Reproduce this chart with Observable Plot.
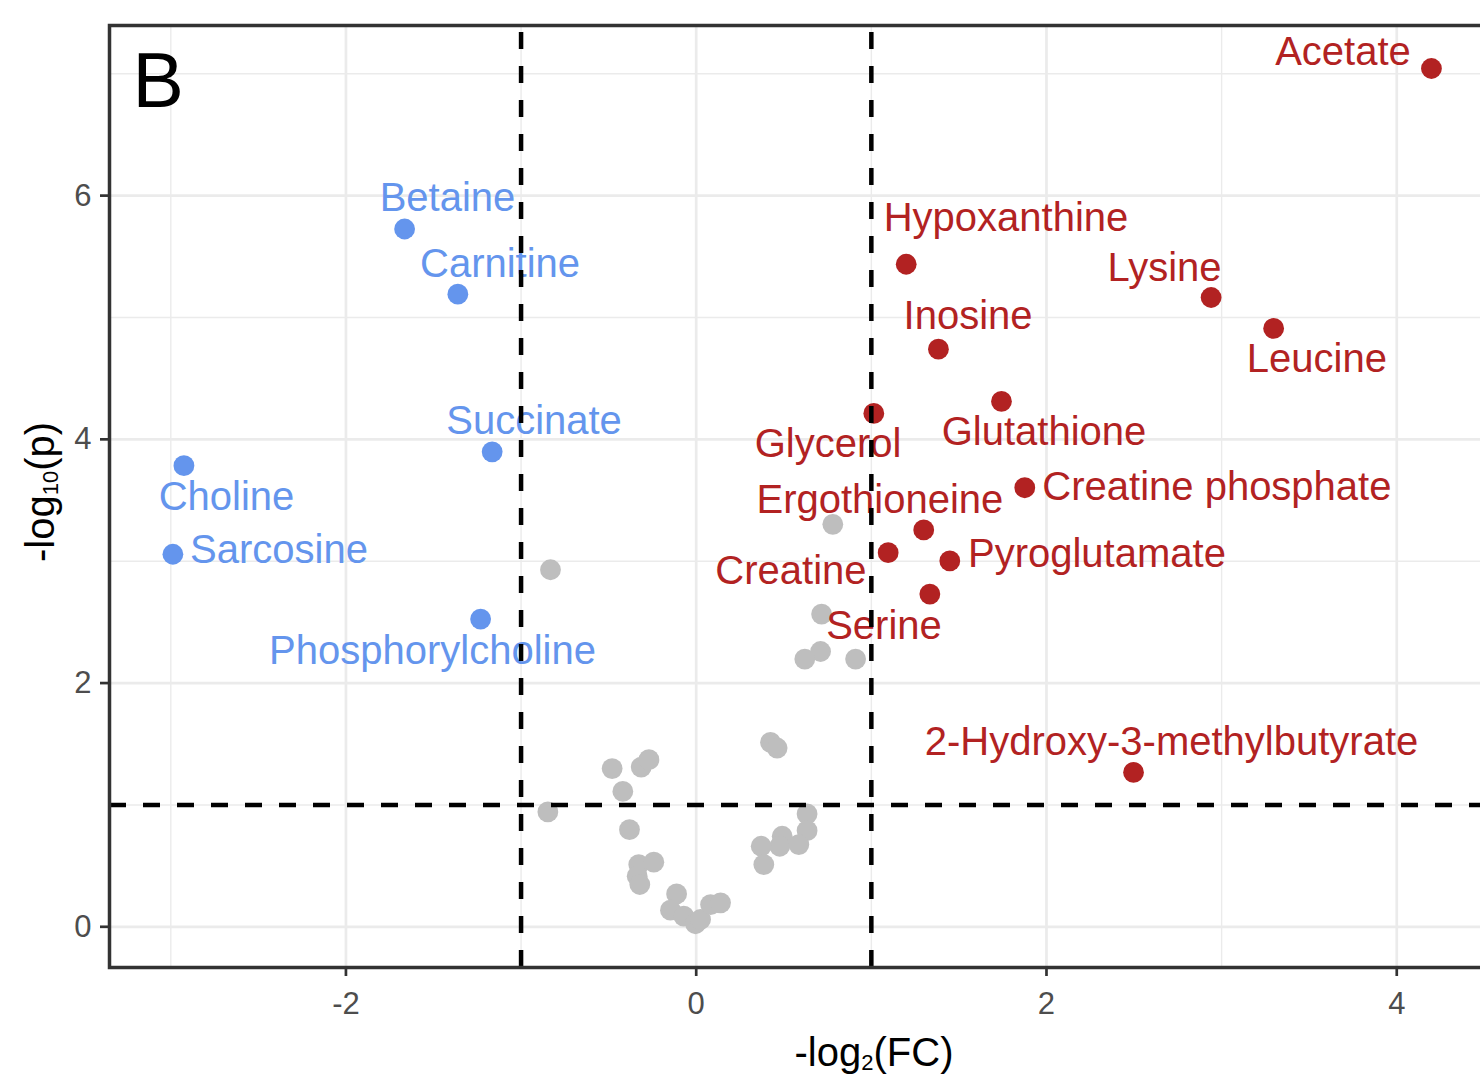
<!DOCTYPE html>
<html>
<head>
<meta charset="utf-8">
<script src="https://cdn.jsdelivr.net/npm/d3@7"></script>
<script src="https://cdn.jsdelivr.net/npm/@observablehq/plot@0.6"></script>
<style>
  html, body { margin: 0; padding: 0; overflow: hidden; background: #fff; }
  #chart { width: 1480px; height: 1079px; overflow: hidden; }
</style>
</head>
<body>
<div id="chart"></div>
<script>
// Volcano plot: -log2(FC) against -log10(p)

// Metabolites lower in the comparison group (blue)
const downNames = ["Betaine", "Carnitine", "Succinate", "Choline", "Sarcosine", "Phosphorylcholine"];
const downFC    = [-1.665, -1.361, -1.165, -2.925, -2.988, -1.231];
const downP     = [5.726, 5.191, 3.898, 3.784, 3.057, 2.525];
// repelled label anchors (data units)
const downLabelX = [-1.420, -1.120, -0.926, -2.682, -2.382, -1.506];
const downLabelY = [5.978, 5.437, 4.150, 3.527, 3.093, 2.265];

// Metabolites higher in the comparison group (red)
const upNames = ["Acetate", "Hypoxanthine", "Lysine", "Leucine", "Inosine", "Glutathione", "Glycerol",
                 "Creatine phosphate", "Ergothioneine", "Creatine", "Pyroglutamate", "Serine",
                 "2-Hydroxy-3-methylbutyrate"];
const upFC = [4.198, 1.199, 2.940, 3.297, 1.383, 1.743, 1.014, 1.876, 1.299, 1.096, 1.448, 1.334, 2.497];
const upP  = [7.043, 5.437, 5.164, 4.910, 4.740, 4.311, 4.213, 3.603, 3.257, 3.070, 3.002, 2.730, 1.267];
const upLabelX = [3.693, 1.769, 2.674, 3.544, 1.552, 1.986, 0.753, 2.973, 1.049, 0.541, 2.288, 1.072, 2.714];
const upLabelY = [7.175, 5.814, 5.404, 4.658, 5.011, 4.060, 3.961, 3.609, 3.502, 2.920, 3.060, 2.470, 1.519];

// Metabolites that miss either cut-off (grey)
const nsFC = [-0.832, 0.780, 0.716, 0.710, 0.620, 0.910, 0.424, 0.462, -0.480, -0.314, -0.270, -0.419,
              -0.847, -0.381, -0.328, -0.242, -0.337, -0.322, -0.112, -0.147, -0.071, -0.004, 0.025,
              0.082, 0.139, 0.633, 0.633, 0.491, 0.477, 0.586, 0.371, 0.386];
const nsP  = [2.930, 3.303, 2.566, 2.259, 2.197, 2.197, 1.513, 1.467, 1.298, 1.311, 1.371, 1.111,
              0.943, 0.797, 0.511, 0.530, 0.415, 0.347, 0.270, 0.136, 0.087, 0.025, 0.060,
              0.182, 0.197, 0.926, 0.789, 0.743, 0.661, 0.675, 0.661, 0.511];

// Thresholds, ticks and panel extent
const fcCut = [-1, 1];
const pCut = [1];
const xTicks = [-2, 0, 2, 4];
const xMinor = [-3, -1, 1, 3, 5];
const yTicks = [0, 2, 4, 6];
const yMinor = [1, 3, 5, 7];
const xDomain = [-3.35, 5.386];
const yDomain = [-0.334, 7.396];
const panelTag = "B";

const FONT = "'Liberation Sans', Arial, Helvetica, sans-serif";
const BLUE = "#6495ED", RED = "#B22222", GREY = "#BEBEBE";

const down = downNames.map((name, i) => ({name, fc: downFC[i], p: downP[i], lx: downLabelX[i], ly: downLabelY[i]}));
const up = upNames.map((name, i) => ({name, fc: upFC[i], p: upP[i], lx: upLabelX[i], ly: upLabelY[i]}));
const ns = nsFC.map((fc, i) => ({fc, p: nsP[i]}));

const dash = {stroke: "#000", strokeWidth: 4.5, strokeDasharray: "17,17"};
const gridMinor = {stroke: "#ebebeb", strokeOpacity: 1, strokeWidth: 1.4};
const gridMajor = {stroke: "#ebebeb", strokeOpacity: 1, strokeWidth: 2.7};
const tickText = d => String(d);

const plot = Plot.plot({
  width: 1660,
  height: 1079,
  marginLeft: 109,
  marginRight: 21,
  marginTop: 25,
  marginBottom: 112,
  style: {fontFamily: FONT, background: "#fff", maxWidth: "none"},
  x: {domain: xDomain, label: null},
  y: {domain: yDomain, label: null},
  marks: [
    Plot.gridX(xMinor, gridMinor),
    Plot.gridY(yMinor, gridMinor),
    Plot.gridX(xTicks, gridMajor),
    Plot.gridY(yTicks, gridMajor),
    Plot.dot(ns, {x: "fc", y: "p", r: 10.4, fill: GREY}),
    Plot.dot(down, {x: "fc", y: "p", r: 10.4, fill: BLUE}),
    Plot.dot(up, {x: "fc", y: "p", r: 10.4, fill: RED}),
    Plot.text(down, {x: "lx", y: "ly", text: "name", fill: BLUE, fontSize: 40, textAnchor: "middle"}),
    Plot.text(up, {x: "lx", y: "ly", text: "name", fill: RED, fontSize: 40, textAnchor: "middle"}),
    Plot.text([panelTag], {frameAnchor: "top-left", textAnchor: "start", lineAnchor: "top",
                           dx: 23, dy: 27, fontSize: 77, fill: "#000"}),
    Plot.ruleX(fcCut, {x: d => d, y1: yDomain[0], y2: yDomain[1], ...dash}),
    Plot.ruleY(pCut, dash),
    Plot.frame({stroke: "#333", strokeWidth: 3.5}),
    Plot.axisX(xTicks, {tickSize: 9, tickPadding: 15, stroke: "#333", strokeWidth: 2.7,
                        fill: "#4d4d4d", fontSize: 31, label: null, tickFormat: tickText}),
    Plot.axisY(yTicks, {tickSize: 9, tickPadding: 9, stroke: "#333", strokeWidth: 2.7,
                        fill: "#4d4d4d", fontSize: 31, label: null, tickFormat: tickText})
  ]
});

// Axis titles with subscripts
const svg = d3.select(plot);
const xr = plot.scale("x").range;
const yr = plot.scale("y").range;
const xMid = (xr[0] + xr[1]) / 2;
const yMid = (yr[0] + yr[1]) / 2;

const xt = svg.append("text")
  .attr("x", xMid).attr("y", 1066)
  .attr("text-anchor", "middle")
  .attr("font-size", 40).attr("fill", "#000");
xt.append("tspan").text("-log");
xt.append("tspan").attr("font-size", 22).attr("dy", 4).text("2");
xt.append("tspan").attr("dy", -4).text("(FC)");

const yt = svg.append("text")
  .attr("transform", `translate(54,${yMid - 4}) rotate(-90)`)
  .attr("text-anchor", "middle")
  .attr("font-size", 40).attr("fill", "#000");
yt.append("tspan").text("-log");
yt.append("tspan").attr("font-size", 22).attr("dy", 4).text("10");
yt.append("tspan").attr("dy", -4).text("(p)");

document.getElementById("chart").appendChild(plot);
</script>
</body>
</html>
